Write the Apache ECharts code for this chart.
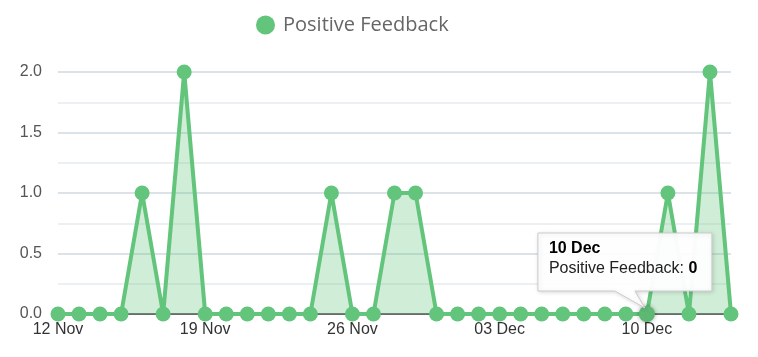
<!DOCTYPE html>
<html>
<head>
<meta charset="utf-8">
<script src="https://cdn.jsdelivr.net/npm/echarts@6/dist/echarts.min.js"></script>
<style>
html,body{margin:0;padding:0;background:#fff;}
#main{width:758px;height:357px;}
</style>
</head>
<body>
<div id="main"></div>
<script>
const categories = ["12 Nov","13 Nov","14 Nov","15 Nov","16 Nov","17 Nov","18 Nov","19 Nov","20 Nov","21 Nov","22 Nov","23 Nov","24 Nov","25 Nov","26 Nov","27 Nov","28 Nov","29 Nov","30 Nov","01 Dec","02 Dec","03 Dec","04 Dec","05 Dec","06 Dec","07 Dec","08 Dec","09 Dec","10 Dec","11 Dec","12 Dec","13 Dec","14 Dec"];
const positiveFeedback = [0,0,0,0,1,0,2,0,0,0,0,0,0,1,0,0,1,1,0,0,0,0,0,0,0,0,0,0,0,1,0,2,0];
const seriesName = "Positive Feedback";
const yTicks = [0, 0.5, 1.0, 1.5, 2.0];
const tooltipIndex = 28;

const chart = echarts.init(document.getElementById('main'));
const green = '#63c47c';
chart.setOption({
  animation: false,
  legend: {
    top: 10,
    left: 251,
    icon: 'circle',
    itemWidth: 19,
    itemHeight: 19,
    data: [seriesName],
    textStyle: { fontFamily: 'Open Sans', fontSize: 20, color: '#666', padding: [0, 0, 0, 3] }
  },
  grid: { left: 58, right: 27, top: 72, bottom: 43, containLabel: false },
  xAxis: {
    type: 'category',
    data: categories,
    boundaryGap: false,
    axisLine: { lineStyle: { color: '#444', width: 1.5 } },
    axisTick: { show: false },
    axisLabel: {
      interval: 6,
      margin: 8,
      color: '#333',
      fontFamily: 'Liberation Sans, Arial',
      fontSize: 16
    },
    splitLine: { show: false }
  },
  yAxis: {
    type: 'value',
    min: 0,
    max: 2,
    interval: 0.25,
    axisLine: { show: false },
    axisTick: { show: false },
    axisLabel: {
      margin: 16,
      color: '#555',
      fontFamily: 'Liberation Sans, Arial',
      fontSize: 16,
      formatter: function (v) {
        return yTicks.indexOf(v) >= 0 ? v.toFixed(1) : '';
      }
    },
    splitLine: { lineStyle: { color: ['#cfd9e1', '#e6ebef'], width: 1.5 } }
  },
  series: [{
    name: seriesName,
    type: 'line',
    data: positiveFeedback,
    color: green,
    symbol: 'circle',
    symbolSize: 15,
    showSymbol: true,
    showAllSymbol: true,
    lineStyle: { width: 4, color: green },
    itemStyle: { color: green },
    areaStyle: { color: green, opacity: 0.3 }
  }]
});

// static callout tooltip for 10 Dec
const p = chart.convertToPixel({ seriesIndex: 0 }, [tooltipIndex, positiveFeedback[tooltipIndex]]);
const bx = p[0] - 109, by = p[1] - 81, bw = 174, bh = 58;
chart.setOption({
  graphic: [
    {
      type: 'circle',
      shape: { cx: p[0], cy: p[1], r: 8 },
      style: { fill: '#5db874', shadowBlur: 4, shadowColor: 'rgba(0,0,0,0.35)' },
      z: 50
    },
    {
      type: 'polygon',
      shape: {
        points: [
          [bx, by], [bx + bw, by], [bx + bw, by + bh],
          [p[0] - 12, by + bh], [p[0] - 2, p[1] - 6], [p[0] - 32, by + bh],
          [bx, by + bh]
        ]
      },
      style: {
        fill: 'rgba(255,255,255,0.97)',
        stroke: '#cccccc',
        lineWidth: 1,
        shadowBlur: 4,
        shadowOffsetX: 1,
        shadowOffsetY: 1,
        shadowColor: 'rgba(0,0,0,0.15)'
      },
      z: 60
    },
    {
      type: 'text',
      left: bx + 11,
      top: by + 8,
      style: {
        text: '{b|' + categories[tooltipIndex] + '}\n{n|' + seriesName + ': }{b|' + positiveFeedback[tooltipIndex] + '}',
        rich: {
          b: { fontFamily: 'Liberation Sans, Arial', fontSize: 16, fontWeight: 'bold', fill: '#000', lineHeight: 20 },
          n: { fontFamily: 'Liberation Sans, Arial', fontSize: 16, fill: '#222', lineHeight: 20 }
        }
      },
      z: 61
    }
  ]
});
</script>
</body>
</html>
